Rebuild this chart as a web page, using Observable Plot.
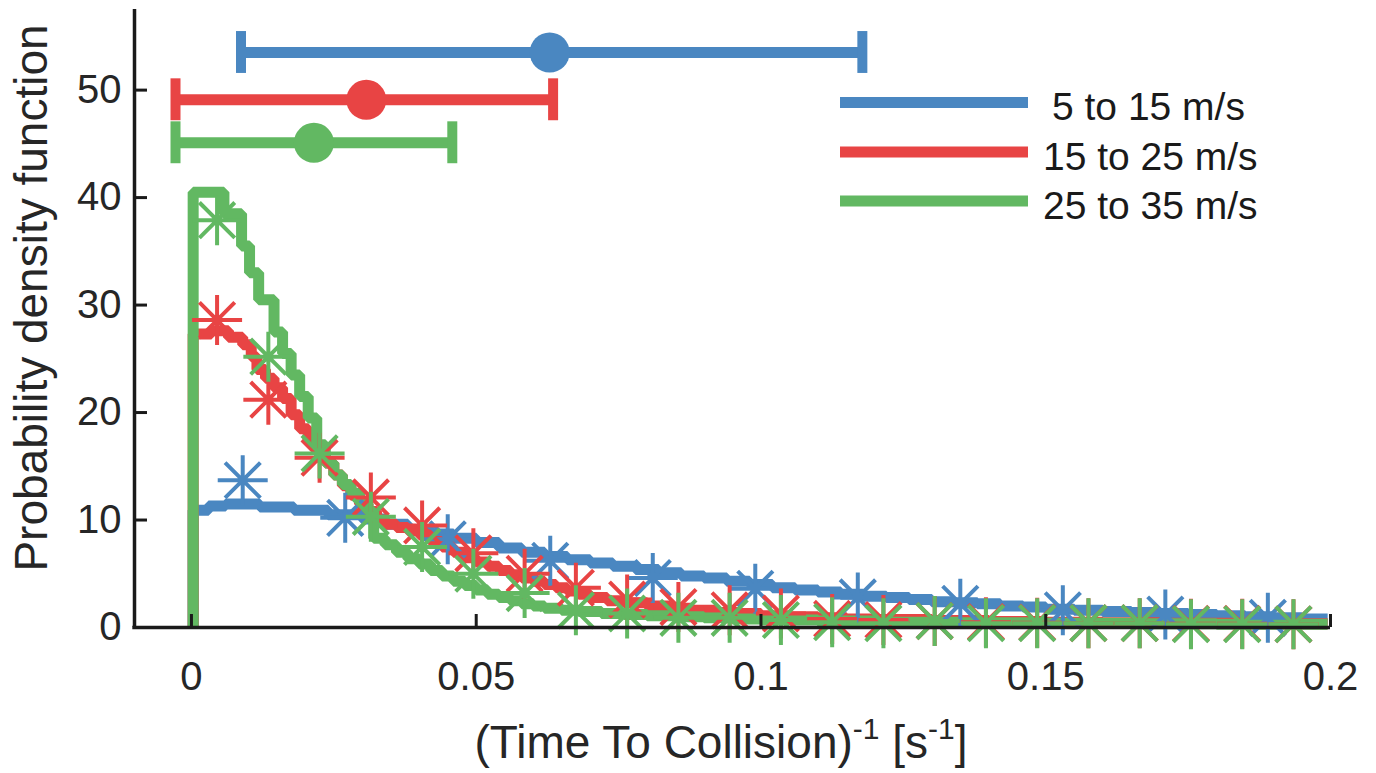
<!DOCTYPE html>
<html><head><meta charset="utf-8">
<script src="https://cdn.jsdelivr.net/npm/d3@7"></script>
<script src="https://cdn.jsdelivr.net/npm/@observablehq/plot@0.6"></script>
<style>
body{margin:0;background:#fff}
svg{font-family:"Liberation Sans",Arial,Helvetica,sans-serif}
</style>
</head><body><div id="chart"></div>
<script>
// ---- data ----
const seriesNames = ["5 to 15 m/s", "15 to 25 m/s", "25 to 35 m/s"];
const seriesColors = ["#4a87c1", "#e84444", "#62b862"];
const xTicks = [0, 0.05, 0.1, 0.15, 0.2];
const xTickLabels = ["0", "0.05", "0.1", "0.15", "0.2"];
const yTicks = [0, 10, 20, 30, 40, 50];

// step PDF curves (bin start, density)
const blueX = [0.0003,0.0003,0.003,0.006,0.012,0.018,0.024,0.030,0.034,0.038,0.042,0.046,0.050,0.054,0.058,0.062,0.066,0.070,0.074,0.078,0.082,0.086,0.090,0.094,0.098,0.102,0.106,0.110,0.114,0.118,0.122,0.126,0.130,0.134,0.138,0.142,0.146,0.150,0.155,0.160,0.165,0.170,0.175,0.180,0.185,0.190,0.195,0.1995];
const blueY = [0,10.9,11.3,11.5,11.2,10.9,10.5,10.1,9.6,9.1,8.7,8.3,7.9,7.4,7.0,6.6,6.3,6.0,5.7,5.4,5.1,4.8,4.6,4.3,4.0,3.7,3.5,3.3,3.1,2.9,2.8,2.6,2.4,2.3,2.2,2.0,1.9,1.7,1.6,1.5,1.4,1.3,1.2,1.1,1.0,0.9,0.8,0.8];
const redX = [0.0003,0.0003,0.0035,0.0065,0.009,0.0105,0.0115,0.013,0.0145,0.016,0.0175,0.019,0.0205,0.022,0.0235,0.025,0.0265,0.028,0.0295,0.031,0.0325,0.034,0.036,0.038,0.040,0.042,0.044,0.046,0.048,0.050,0.052,0.054,0.056,0.058,0.060,0.062,0.064,0.066,0.068,0.070,0.073,0.076,0.080,0.084,0.088,0.092,0.096,0.100,0.105,0.110,0.115,0.120,0.130,0.140,0.150,0.160,0.170,0.185,0.1995];
const redY = [0,27.3,27.6,27.0,26.3,25.2,24.0,23.2,22.3,21.3,19.8,18.5,17.3,16.3,15.3,14.2,13.2,12.3,11.5,10.8,10.0,9.6,9.3,9.0,8.6,8.0,7.5,7.0,6.5,6.1,5.7,5.3,4.9,4.6,4.3,4.0,3.7,3.4,3.1,2.8,2.5,2.3,2.0,1.8,1.6,1.4,1.3,1.1,1.0,0.9,0.8,0.75,0.65,0.55,0.5,0.45,0.4,0.35,0.35];
const greenX = [0.0003,0.0003,0.0057,0.0088,0.0102,0.0118,0.0145,0.016,0.0175,0.019,0.0205,0.022,0.0235,0.025,0.0265,0.028,0.0295,0.031,0.032,0.034,0.036,0.038,0.040,0.042,0.044,0.046,0.048,0.050,0.052,0.054,0.056,0.058,0.060,0.062,0.065,0.068,0.072,0.076,0.080,0.085,0.090,0.095,0.100,0.110,0.120,0.135,0.150,0.165,0.180,0.1995];
const greenY = [0,40.5,38.5,35.5,33.0,30.5,27.5,25.5,23.5,21.5,19.5,17.0,15.3,14.2,13.3,12.5,11.7,10.8,8.3,7.7,7.0,6.4,5.9,5.3,4.8,4.3,3.9,3.5,3.1,2.8,2.5,2.2,2.0,1.8,1.6,1.5,1.3,1.2,1.1,1.0,0.9,0.8,0.7,0.6,0.5,0.45,0.4,0.35,0.3,0.3];

// asterisk markers
const blueMarkX = [0.009,0.027,0.045,0.063,0.081,0.099,0.117,0.135,0.153,0.171,0.189];
const blueMarkY = [13.7,10.2,8.2,6.2,4.6,3.6,2.8,2.2,1.6,1.2,0.9];
const rgMarkX = [0.0045,0.0135,0.0225,0.0315,0.0405,0.0495,0.0585,0.0675,0.0765,0.0855,0.0945,0.1035,0.1125,0.1215,0.1305,0.1395,0.1485,0.1575,0.1665,0.1755,0.1845,0.1935];
const redMarkY = [28.6,21.2,15.8,12.1,9.5,6.9,5.0,3.7,2.6,1.9,1.6,1.3,0.8,0.7,0.6,0.5,0.45,0.4,0.4,0.35,0.35,0.3];
const greenMarkY = [37.9,25.2,16.2,10.3,7.5,5.0,3.2,1.6,1.3,0.9,0.9,0.7,0.5,0.4,0.6,0.4,0.4,0.4,0.4,0.3,0.3,0.3];

// error bars (low, mean, high) at a height
const ebLow = [0.0087, -0.0028, -0.0028];
const ebMean = [0.0629, 0.0307, 0.0215];
const ebHigh = [0.1178, 0.0635, 0.0458];
const ebY = [53.5, 49.1, 45.1];

// ---- build ----
const zip = (xs, ys) => xs.slice(0, Math.min(xs.length, ys.length)).map((x, i) => ({x, y: ys[i]}));
const curves = [zip(blueX, blueY), zip(redX, redY), zip(greenX, greenY)];
const marks = [zip(blueMarkX, blueMarkY), zip(rgMarkX, redMarkY), zip(rgMarkX, greenMarkY)];
const bars = ebY.map((y, i) => ({lo: ebLow[i], mean: ebMean[i], hi: ebHigh[i], y, c: seriesColors[i]}));

const W = 1376, H = 773;
const mL = 134, mR = 46, mT = 9, mB = 146;
const innerW = W - mL - mR, innerH = H - mT - mB;
const capHalf = 1.95;
const tickLen = 13;
const ink = "#1a1a1a";

const asterisk = {
  draw(ctx, size) {
    const r = Math.sqrt(size / Math.PI);
    const d = r * Math.SQRT1_2;
    ctx.moveTo(-r, 0); ctx.lineTo(r, 0);
    ctx.moveTo(0, -r); ctx.lineTo(0, r);
    ctx.moveTo(-d, -d); ctx.lineTo(d, d);
    ctx.moveTo(-d, d); ctx.lineTo(d, -d);
  }
};

const lineMarks = curves.map((data, i) => Plot.line(data, {
  x: "x", y: "y", curve: "step-after", stroke: seriesColors[i], strokeWidth: 11,
  strokeLinejoin: "miter", strokeLinecap: "butt"
}));
const starMarks = marks.map((data, i) => Plot.dot(data, {
  x: "x", y: "y", r: 25, symbol: asterisk, stroke: seriesColors[i], strokeWidth: 4, fill: "none"
}));

const chart = Plot.plot({
  width: W, height: H,
  marginLeft: mL, marginRight: mR, marginTop: mT, marginBottom: mB,
  x: {domain: [-0.01, 0.2], axis: null},
  y: {domain: [0, 57.5], axis: null},
  style: {fontFamily: '"Liberation Sans", Arial, sans-serif', background: "#fff", overflow: "visible"},
  marks: [
    ...lineMarks,
    ...starMarks,
    // error bars
    Plot.ruleY(bars, {y: "y", x1: "lo", x2: "hi", stroke: "c", strokeWidth: 11}),
    Plot.ruleX(bars, {x: "lo", y1: d => d.y - capHalf, y2: d => d.y + capHalf, stroke: "c", strokeWidth: 10}),
    Plot.ruleX(bars, {x: "hi", y1: d => d.y - capHalf, y2: d => d.y + capHalf, stroke: "c", strokeWidth: 10}),
    Plot.dot(bars, {x: "mean", y: "y", r: 20, fill: "c"}),
    // axes lines (MATLAB style, left & bottom)
    Plot.ruleX([-0.01], {stroke: ink, strokeWidth: 3.5}),
    Plot.ruleY([0], {stroke: ink, strokeWidth: 3.5, insetLeft: -1.7}),
    // inward ticks
    Plot.tickX(xTicks, {x: d => d, insetTop: innerH - tickLen, stroke: ink, strokeWidth: 3}),
    Plot.tickY(yTicks, {y: d => d, insetRight: innerW - tickLen, stroke: ink, strokeWidth: 3}),
    // tick labels
    Plot.axisX(xTicks, {tickSize: 0, tickPadding: 34, fontSize: 40, fill: "#262626",
      tickFormat: d => xTickLabels[xTicks.indexOf(d)], label: null}),
    Plot.axisY(yTicks, {tickSize: 0, tickPadding: 13, fontSize: 40, fill: "#262626", label: null})
  ]
});

document.getElementById("chart").appendChild(chart);
const svg = d3.select(chart);

// axis titles
const xl = svg.append("text").attr("x", 721).attr("y", 758).attr("text-anchor", "middle")
  .attr("font-size", 46).attr("fill", "#262626");
xl.append("tspan").text("(Time To Collision)");
xl.append("tspan").attr("font-size", 30).attr("dy", -19).text("-1");
xl.append("tspan").attr("dy", 19).text(" [s");
xl.append("tspan").attr("font-size", 30).attr("dy", -19).text("-1");
xl.append("tspan").attr("dy", 19).text("]");

svg.append("text").attr("transform", "translate(47,298) rotate(-90)").attr("text-anchor", "middle")
  .attr("font-size", 46).attr("fill", "#262626").text("Probability density function");

// legend
const leg = svg.append("g");
const legY = [102.5, 152, 201];
const legTextX = [1052, 1043, 1043];
seriesNames.forEach((name, i) => {
  leg.append("line").attr("x1", 840).attr("x2", 1028).attr("y1", legY[i]).attr("y2", legY[i])
    .attr("stroke", seriesColors[i]).attr("stroke-width", 11);
  leg.append("text").attr("x", legTextX[i]).attr("y", legY[i] + 17.5).attr("font-size", 39)
    .attr("text-anchor", "start").attr("fill", "#1a1a1a").text(name);
});
</script>
</body></html>
